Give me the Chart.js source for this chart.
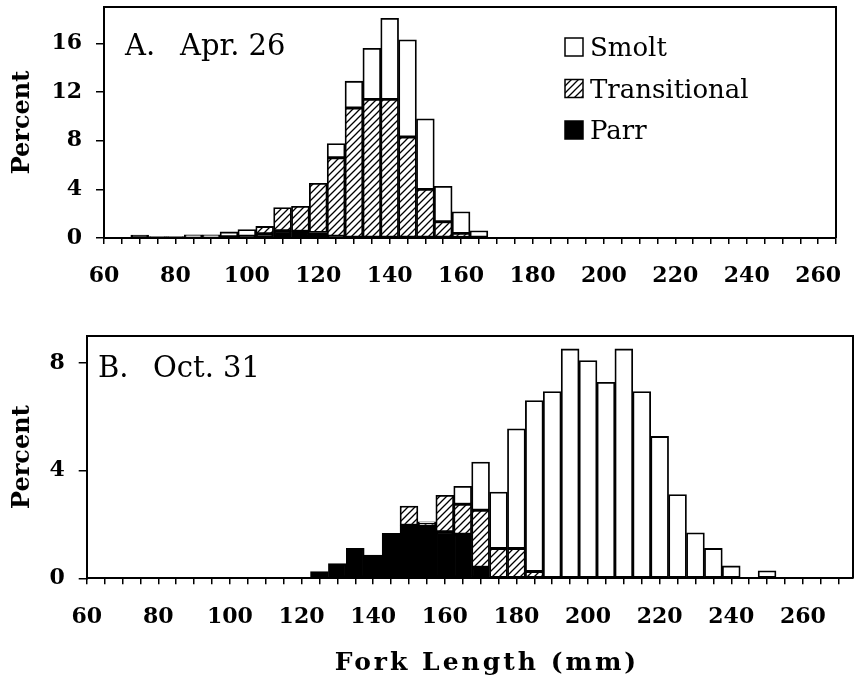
<!DOCTYPE html>
<html>
<head>
<meta charset="utf-8">
<script src="https://cdn.jsdelivr.net/npm/chart.js@4.4.0/dist/chart.umd.min.js"></script>
<style>
html,body{margin:0;padding:0;background:#fff;}
#wrapA{position:absolute;left:0;top:0;width:857px;height:300px;}
#wrapB{position:absolute;left:0;top:320px;width:857px;height:364px;}
</style>
</head>
<body>
<div id="wrapA"><canvas id="chartA"></canvas></div>
<div id="wrapB"><canvas id="chartB"></canvas></div>
<script>
// A. Apr. 26 - bin centres (mm) and percent per stage
const binsA  = [65, 70, 75, 80, 85, 90, 95, 100, 105, 110, 115, 120, 125, 130, 135, 140, 145, 150, 155, 160, 165];
const parrA  = [0, 0.25, 0.12, 0.12, 0.05, 0.05, 0.1, 0.15, 0.35, 0.6, 0.55, 0.45, 0.15, 0, 0, 0, 0, 0, 0, 0, 0];
const transA = [0, 0, 0, 0, 0, 0, 0, 0, 0.6, 1.9, 2.05, 4.05, 6.45, 10.7, 11.4, 11.4, 8.3, 4.0, 1.34, 0.38, 0];
const smoltA = [0, 0, 0, 0, 0.22, 0.22, 0.4, 0.55, 0, 0, 0, 0, 1.16, 2.2, 4.2, 6.67, 8.0, 5.8, 2.92, 1.78, 0.6];

// B. Oct. 31
const binsB  = [125, 130, 135, 140, 145, 150, 155, 160, 165, 170, 175, 180, 185, 190, 195, 200, 205, 210, 215, 220, 225, 230, 235, 240, 245, 250];
const parrB  = [0.25, 0.55, 1.11, 0.86, 1.67, 1.97, 1.95, 1.73, 1.64, 0.41, 0, 0, 0, 0, 0, 0, 0, 0, 0, 0, 0, 0, 0, 0, 0, 0];
const transB = [0, 0, 0, 0, 0, 0.71, 0.1, 1.35, 1.11, 2.12, 1.11, 1.11, 0.25, 0, 0, 0, 0, 0, 0, 0, 0, 0, 0, 0, 0, 0];
const smoltB = [0, 0, 0, 0, 0, 0, 0.05, 0, 0.67, 1.79, 2.09, 4.44, 6.35, 6.94, 8.52, 8.09, 7.28, 8.52, 6.94, 5.27, 3.11, 1.69, 1.11, 0.46, 0, 0.28];

const yTicksA = [0, 4, 8, 12, 16];
const yTicksB = [0, 4, 8];

//hatch fill for transitional
function hatchFill(){
    const c = document.createElement('canvas');
    c.width = 7; c.height = 7;
    const g = c.getContext('2d');
    g.fillStyle = '#fff';
    g.fillRect(0, 0, 7, 7);
    g.strokeStyle = '#000';
    g.lineWidth = 1.3;
    g.beginPath();
    g.moveTo(0, 7); g.lineTo(7, 0);
    g.moveTo(-1, 1); g.lineTo(1, -1);
    g.moveTo(6, 8); g.lineTo(8, 6);
    g.stroke();
    return g.createPattern(c, 'repeat');
}
const hatch = hatchFill();

function makeSets(bins, parr, trans, smolt){
    const pts = arr => bins.map((b, i) => ({x: b, y: arr[i] > 0 ? arr[i] : null}));
    const base = {borderColor: '#000', borderWidth: 1.8, borderSkipped: false, barPercentage: 1, categoryPercentage: 1};
    return [
        Object.assign({label: 'Parr', data: pts(parr), backgroundColor: '#000'}, base),
        Object.assign({label: 'Transitional', data: pts(trans), backgroundColor: hatch}, base),
        Object.assign({label: 'Smolt', data: pts(smolt), backgroundColor: '#fff'}, base),
    ];
}

const tickFont = {family: '"DejaVu Serif"', weight: 'bold', size: 22};

//frame, panel label, legend, x title
const panelText = {
    id: 'panelText',
    afterDraw(chart, args, o){
        const ctx = chart.ctx, a = chart.chartArea;
        ctx.save();
        ctx.strokeStyle = '#000';
        ctx.lineWidth = 2;
        ctx.beginPath();
        ctx.moveTo(a.left, a.top);
        ctx.lineTo(a.right, a.top);
        ctx.lineTo(a.right, a.bottom);
        ctx.stroke();

        ctx.fillStyle = '#000';
        ctx.textBaseline = 'alphabetic';
        ctx.font = '29px "DejaVu Serif"';
        ctx.fillText(o.letter, o.letterX, o.labelY);
        ctx.fillText(o.date, o.dateX, o.labelY);

        if (o.legend){
            ctx.font = '26px "DejaVu Serif"';
            const sets = chart.data.datasets.slice().reverse();
            sets.forEach((ds, i) => {
                const y = o.legend.y + i * o.legend.step;
                ctx.fillStyle = ds.backgroundColor;
                ctx.fillRect(o.legend.x, y - 18, 18, 18);
                ctx.lineWidth = 1.5;
                ctx.strokeRect(o.legend.x, y - 18, 18, 18);
                ctx.fillStyle = '#000';
                ctx.fillText(ds.label, o.legend.x + 25, y);
            });
        }
        if (o.xTitle){
            ctx.font = 'bold 25px "DejaVu Serif"';
            ctx.letterSpacing = '3px';
            ctx.textAlign = 'center';
            ctx.textBaseline = 'middle';
            ctx.fillText(o.xTitle.text, o.xTitle.x, o.xTitle.y);
        }
        ctx.restore();
    }
};

function histChart(id, sets, cfg){
    return new Chart(id, {
        type: 'bar',
        data: {datasets: sets},
        plugins: [panelText],
        options: {
            responsive: true,
            maintainAspectRatio: false,
            animation: false,
            layout: {padding: cfg.padding},
            scales: {
                x: {
                    type: 'linear',
                    min: 60,
                    max: cfg.xMax,
                    stacked: true,
                    offset: false,
                    afterBuildTicks: s => {
                        s.ticks = [];
                        for (let v = 60; v <= s.max + 0.01; v += 5) s.ticks.push({value: v});
                    },
                    ticks: {
                        autoSkip: false,
                        maxRotation: 0,
                        padding: cfg.xPad,
                        color: '#000',
                        font: tickFont,
                        callback: v => v % 20 === 0 ? v : '',
                    },
                    grid: {drawOnChartArea: false, offset: false, tickLength: 6, color: '#000', lineWidth: 1.5},
                    border: {color: '#000', width: 2},
                    afterFit: s => { s.height = cfg.xHeight; s.paddingLeft = 0; s.paddingRight = 0; },
                },
                y: {
                    min: 0,
                    max: cfg.yMax,
                    stacked: true,
                    afterBuildTicks: s => { s.ticks = cfg.yTicks.map(v => ({value: v})); },
                    ticks: {padding: 14, color: '#000', font: tickFont},
                    grid: {drawOnChartArea: false, tickLength: 8, color: '#000', lineWidth: 1.5},
                    border: {color: '#000', width: 2},
                    title: {
                        display: true,
                        text: 'Percent',
                        color: '#000',
                        font: {family: '"DejaVu Serif"', weight: 'bold', size: 24},
                        padding: {top: 8, bottom: 0},
                    },
                    afterFit: s => { s.width = cfg.yWidth; s.paddingTop = 0; s.paddingBottom = 0; },
                },
            },
            plugins: {
                legend: {display: false},
                tooltip: {enabled: false},
                panelText: cfg.text,
            },
        },
    });
}

histChart('chartA', makeSets(binsA, parrA, transA, smoltA), {
    padding: {top: 7, right: 21, left: 0, bottom: 0},
    xMax: 265, yMax: 19, yTicks: yTicksA,
    xHeight: 62, yWidth: 104, xPad: 19,
    text: {letter: 'A.', date: 'Apr. 26', letterX: 125, dateX: 180, labelY: 55,
           legend: {x: 565, y: 56, step: 41.5}},
});

histChart('chartB', makeSets(binsB, parrB, transB, smoltB), {
    padding: {top: 16, right: 4, left: 0, bottom: 0},
    xMax: 274, yMax: 9, yTicks: yTicksB,
    xHeight: 105.7, yWidth: 86.7, xPad: 20,
    text: {letter: 'B.', date: 'Oct. 31', letterX: 98, dateX: 153, labelY: 57,
           xTitle: {text: 'Fork Length (mm)', x: 487, y: 343}},
});
</script>
</body>
</html>
